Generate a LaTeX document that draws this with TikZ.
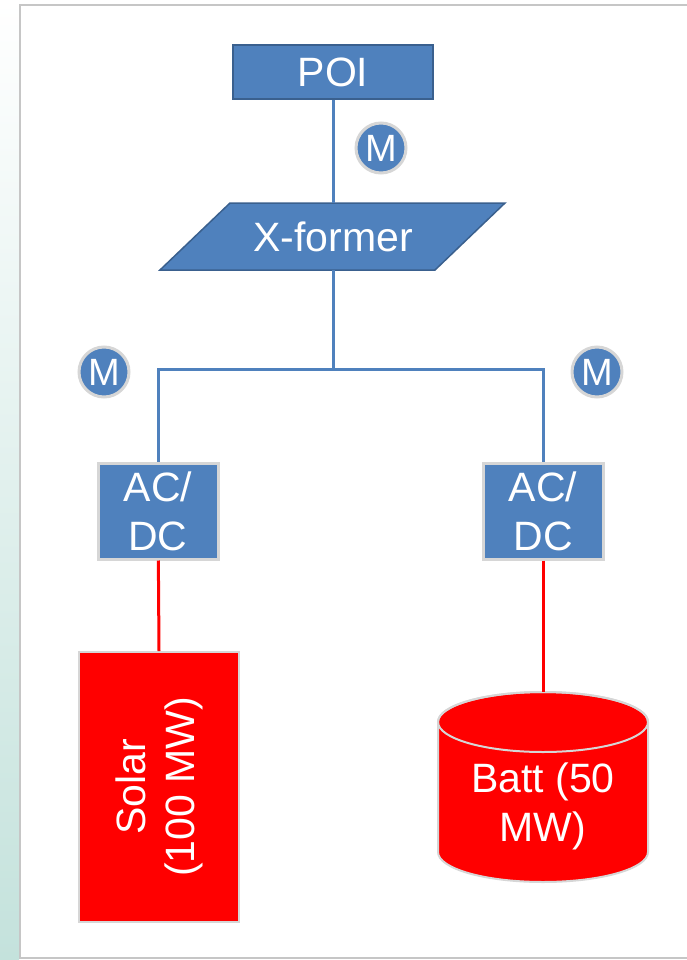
\documentclass[tikz,border=0pt]{standalone}
\usepackage{fontspec}
\setmainfont{Liberation Sans}
\definecolor{boxblue}{RGB}{79,129,189}
\definecolor{edgeblue}{RGB}{58,96,142}
\definecolor{rimgray}{RGB}{214,214,214}
\definecolor{slidegreen}{RGB}{196,226,220}
\begin{document}
\begin{tikzpicture}[x=1pt,y=-1pt,
  bigtext/.style={text=white,font=\fontsize{41}{49}\selectfont},
  bluebox/.style={rectangle,fill=boxblue,draw=edgeblue,line width=1.5pt,bigtext,inner sep=0pt},
  conv/.style={rectangle,fill=boxblue,draw=rimgray,line width=3pt,bigtext,align=center,minimum width=120pt,minimum height=96pt,inner sep=0pt},
  meter/.style={circle,fill=boxblue,draw=rimgray,line width=3pt,minimum size=50pt,inner sep=0pt,text=white,font=\fontsize{38}{38}\selectfont},
  source/.style={fill=red,draw=rimgray,line width=2pt,bigtext,align=center,inner sep=0pt},
  acline/.style={boxblue,line width=3pt},
  dcline/.style={red,line width=3pt}]
\useasboundingbox (0,0) rectangle (687,960);
\shade[top color=white,bottom color=slidegreen] (0,0) rectangle (19,960);
\draw[gray!45,line width=2pt] (20,5) rectangle (700,958);

\node (poi) [bluebox,minimum width=200pt,minimum height=54pt] at (333,72) {POI};
\node (mtop) [meter] at (381,148) {M};

\filldraw[fill=boxblue,draw=edgeblue,line width=1.5pt] (160,270) -- (230,203) -- (505,203) -- (435,270) -- cycle;
\node (xf) [bigtext,minimum width=200pt,minimum height=67pt,inner sep=0pt] at (333,236.5) {X-former};

\coordinate (bus) at (333,369);
\node (mleft) [meter] at (104,372) {M};
\node (mright) [meter] at (597,372) {M};

\node (acdcL) [conv] at (158,511) {AC/\\DC};
\node (acdcR) [conv] at (543,511) {AC/\\DC};

% rotated, so its east anchor is on top
\node (solar) [source,rotate=90,minimum width=270pt,minimum height=160pt] at (159,787) {Solar\\(100 MW)};

% battery drum
\coordinate (batttop) at (543,692);
\filldraw[fill=red,draw=rimgray,line width=2pt] (438,722) arc[start angle=180,end angle=0,x radius=105pt,y radius=30pt]
  -- (648,852) arc[start angle=0,end angle=-180,x radius=105pt,y radius=30pt] -- cycle;
\draw[rimgray,line width=2pt] (543,722) ellipse [x radius=105pt,y radius=30pt];
\node (batt) [bigtext,align=center] at (543,806) {Batt (50\\MW)};

\draw[acline] (poi) -- (xf);
\draw[acline] (xf) -- (bus);
\draw[acline] (acdcL.north) |- (bus) -| (acdcR.north);
\draw[dcline] (acdcL) -- (solar.east);
\draw[dcline] (acdcR) -- (batttop);
\end{tikzpicture}
\end{document}
